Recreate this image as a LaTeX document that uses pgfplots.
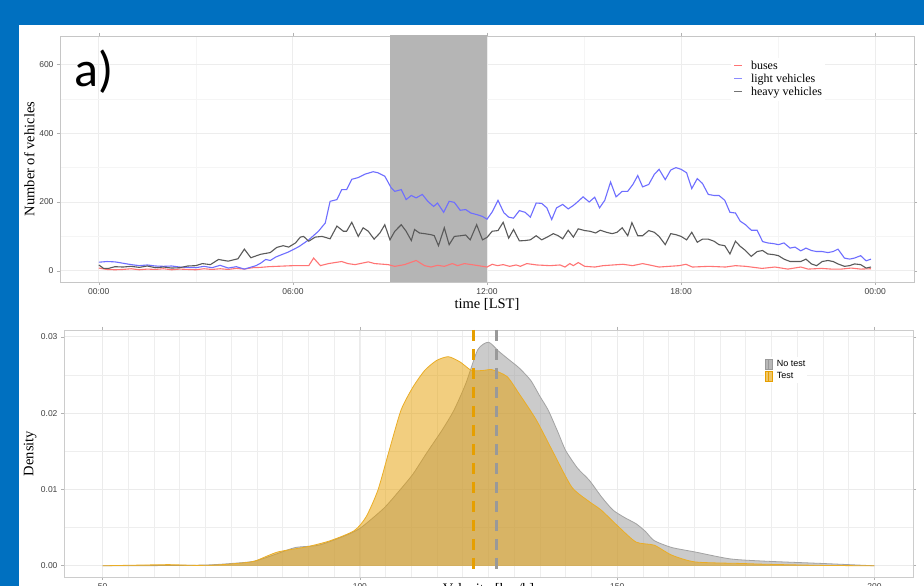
\documentclass[border=0pt]{standalone}
\usepackage{fontspec}
\setmainfont{Liberation Serif}
\setsansfont{Liberation Sans}
\newfontfamily\calib{Carlito}
\usepackage{pgfplots}
\pgfplotsset{compat=1.18}
\usepackage{pgfplotstable}
\definecolor{slideblue}{HTML}{0070C0}
\definecolor{nogray}{HTML}{999999}
\definecolor{testor}{HTML}{E69F00}
\definecolor{busred}{HTML}{FF7474}
\definecolor{lvblue}{HTML}{6E6EFF}
\definecolor{hvgray}{HTML}{5A5A5A}

\pgfplotstableread{
h v
0 8
0.25 4
0.5 3
0.75 4
1.0 6
1.25 3
1.5 5
1.75 4
2.0 6
2.25 3
2.5 5
2.75 4
3.0 3
3.25 6
3.5 4
3.75 6
4.0 4
4.25 7
4.5 5
4.75 9
5.0 10
5.25 12
5.5 13
5.75 14
6.0 15
6.3 15
6.49 15
6.64 37
6.85 15
7.1 21
7.3 24
7.51 27
7.7 21
7.92 18
8.33 26
8.53 21
8.94 18
9.15 13
9.45 18
9.81 30
10.07 15
10.27 11
10.47 16
10.68 13
10.93 21
11.09 15
11.3 21
11.6 17
12.0 11
12.16 19
12.32 15
12.5 18
12.7 13
12.9 17
13.03 13
13.23 21
13.54 17
13.95 15
14.26 17
14.41 11
14.56 21
14.67 15
14.82 24
15.02 13
15.33 11
15.59 15
15.9 17
16.2 19
16.5 15
16.81 21
17.02 17
17.32 11
17.63 13
17.94 15
18.15 19
18.35 11
18.86 13
19.37 11
19.68 15
20.0 13
20.5 7
20.9 11
21.3 5
21.7 11
21.93 5
22.34 7
22.65 5
22.95 5
23.26 8
23.55 5
23.87 6
}\buses

\pgfplotstableread{
h v
0 25
0.25 27
0.5 26
0.75 22
1.0 18
1.25 15
1.5 17
1.75 14
2.0 13
2.25 14
2.5 11
2.75 10
3.0 9
3.25 13
3.5 9
3.75 16
4.0 8
4.25 12
4.5 5
4.86 15
5.0 22
5.16 33
5.3 30
5.47 40
5.6 45
5.87 55
6.18 70
6.49 90
6.79 115
7.0 139
7.15 202
7.36 207
7.51 236
7.66 236
7.82 266
8.02 271
8.23 281
8.48 288
8.63 285
8.84 275
9.04 241
9.15 231
9.35 236
9.5 207
9.66 219
9.81 212
10.0 222
10.17 202
10.35 187
10.47 197
10.66 170
10.83 202
10.99 199
11.17 176
11.34 178
11.5 168
11.7 163
11.86 158
12.0 150
12.16 171
12.34 205
12.52 169
12.67 156
12.82 153
13.0 175
13.18 170
13.34 156
13.52 197
13.69 196
13.85 183
14.0 149
14.15 183
14.34 193
14.51 180
14.67 190
14.82 202
14.97 215
15.16 200
15.33 214
15.48 183
15.64 205
15.82 258
15.99 215
16.18 231
16.35 231
16.51 251
16.66 277
16.81 244
17.0 251
17.17 280
17.32 295
17.51 265
17.68 293
17.84 300
18.0 295
18.17 285
18.33 239
18.5 268
18.66 254
18.84 222
19.02 219
19.17 219
19.35 205
19.51 170
19.68 168
19.83 144
19.99 134
20.17 118
20.35 118
20.52 85
20.68 81
20.86 79
21.01 76
21.18 81
21.37 66
21.52 69
21.7 58
21.86 66
22.03 59
22.19 56
22.36 56
22.54 53
22.7 56
22.85 63
23.05 37
23.21 34
23.36 37
23.55 44
23.72 29
23.87 34
}\light

\pgfplotstableread{
h v
0 17
0.15 7
0.3 7
0.5 12
0.75 11
1.0 13
1.25 10
1.5 14
1.75 9
2.0 11
2.25 8
2.5 9
2.75 14
3.0 15
3.2 21
3.45 18
3.7 33
4.0 28
4.3 35
4.5 63
4.7 38
5.0 48
5.3 53
5.5 68
5.7 73
5.87 69
6.08 81
6.23 98
6.33 100
6.49 86
6.69 98
6.9 100
7.15 93
7.36 130
7.56 115
7.66 115
7.82 141
8.02 100
8.17 125
8.33 115
8.51 92
8.69 110
8.84 134
9.0 90
9.15 115
9.35 134
9.5 115
9.66 88
9.76 120
9.91 110
10.07 108
10.27 105
10.37 102
10.5 73
10.68 125
10.83 76
10.99 100
11.19 102
11.34 104
11.48 90
11.68 134
11.86 90
12.0 97
12.16 115
12.34 117
12.5 141
12.67 95
12.82 120
13.0 87
13.18 88
13.34 90
13.52 102
13.69 90
13.9 100
14.05 108
14.2 102
14.34 93
14.51 118
14.67 98
14.82 122
15.02 117
15.18 115
15.36 110
15.5 118
15.69 112
15.87 108
16.02 112
16.18 125
16.35 102
16.48 140
16.66 102
16.81 102
17.0 117
17.17 112
17.32 100
17.51 76
17.68 108
17.84 105
18.0 100
18.17 90
18.33 112
18.5 83
18.66 92
18.84 92
19.02 86
19.17 76
19.35 73
19.51 49
19.68 86
19.83 71
19.99 59
20.17 42
20.35 56
20.52 59
20.68 49
20.86 47
21.01 44
21.18 34
21.37 27
21.52 27
21.7 27
21.86 34
22.03 20
22.19 15
22.36 27
22.54 30
22.7 27
22.85 20
23.05 13
23.21 15
23.36 20
23.55 18
23.72 8
23.87 11
}\heavy

\pgfplotstableread{
v d
50 0
60 0.00002
70 0.0001
75 0.0003
79.5 0.0006
84 0.0016
87.5 0.0024
92 0.0027
96.6 0.0038
100 0.0049
104.6 0.0075
107.5 0.0097
110.3 0.0120
113 0.0148
116 0.0178
118.3 0.0204
120.6 0.0239
122.9 0.0283
125 0.0293
127 0.0281
129 0.0270
131 0.0259
133.2 0.0243
135 0.0222
136.6 0.0204
138.5 0.0175
140 0.0151
142.3 0.0128
144.6 0.0112
147 0.0090
149.2 0.0073
151.5 0.0063
153.7 0.0055
155.5 0.0045
157.2 0.0033
160.6 0.0024
165.2 0.0018
172 0.0009
178.9 0.0006
190 0.0003
200 0
}\notest

\pgfplotstableread{
v d
50 0
58 0.0001
63 0.00015
68 0.00005
72 0.0001
76 0.0003
79.5 0.0006
84 0.0018
89.8 0.0025
94.3 0.0033
98.9 0.0046
101.2 0.0064
103.5 0.0099
105.7 0.0151
108 0.0204
110.3 0.0234
112.6 0.0256
114.9 0.0269
117.2 0.0274
119.5 0.0267
121.7 0.0256
124 0.0256
125.7 0.0257
128.6 0.0248
130.9 0.0226
134.3 0.0191
137.7 0.0147
141.2 0.0103
144.6 0.0084
146.9 0.0073
150.3 0.0051
153.7 0.0031
157.2 0.0027
160.6 0.0014
165.2 0.0005
174.3 0.0003
178.9 0.0002
190 0.00005
200 0
}\testd

\begin{document}
\begin{tikzpicture}[x=1pt,y=1pt]
\useasboundingbox (0,0) rectangle (924,586);
\clip (0,0) rectangle (924,586);
\fill[slideblue] (0,0) rectangle (924,586);
\fill[white] (19,0) rectangle (924,561);

% ---------- top panel ----------
\begin{axis}[
  at={(60pt,304pt)}, anchor=south west,
  scale only axis, width=854pt, height=246pt,
  xmin=-1.2, xmax=25.2, ymin=-32.5, ymax=682.5,
  xtick={0,6,12,18,24}, xticklabels={00:00,06:00,12:00,18:00,00:00},
  minor xtick={3,9,15,21},
  ytick={0,200,400,600}, minor ytick={100,300,500},
  grid=both,
  major grid style={gray!14, line width=1pt},
  minor grid style={gray!8, line width=0.5pt},
  axis line style={gray!45, line width=0.9pt},
  tick align=outside, major tick length=3pt, minor tick length=0pt,
  tick style={gray!60, line width=0.6pt},
  tick label style={font=\sffamily\fontsize{8.5}{9}\selectfont, text=black!75},
  /pgf/number format/assume math mode=true,
  xlabel={time [LST]}, ylabel={Number of vehicles},
  label style={font=\fontsize{14.5}{16}\selectfont},
  xlabel style={at={(axis description cs:0.5,-0.093)}, anchor=center},
  ylabel style={at={(axis description cs:-0.036,0.5)}, anchor=center},
  legend style={at={(axis description cs:0.786,0.911)}, anchor=north west,
    draw=none, fill=white, font=\fontsize{12}{13}\selectfont,
    nodes={inner sep=1pt, text height=8.5pt, text depth=2.5pt},
    inner xsep=2pt, inner ysep=2pt,
    /tikz/every odd column/.append style={column sep=7pt}},
  legend cell align=left,
  legend image code/.code={\draw[#1] (0pt,1pt) -- (8pt,1pt);},
]
\addplot[fill=black!29, draw=none, forget plot] coordinates {(9,-40) (12,-40) (12,700) (9,700)};
\addplot[busred, line width=1.1pt, forget plot] table[x=h,y=v] {\buses};
\addplot[lvblue, line width=1.1pt, forget plot] table[x=h,y=v] {\light};
\addplot[hvgray, line width=1.1pt, forget plot] table[x=h,y=v] {\heavy};
\addlegendimage{draw=busred, line width=1.6pt}
\addlegendentry{buses}
\addlegendimage{draw=lvblue!80, line width=1.6pt}
\addlegendentry{light vehicles}
\addlegendimage{draw=hvgray!85, line width=1.6pt}
\addlegendentry{heavy vehicles}
\end{axis}

\node[anchor=base west, inner sep=0pt, font=\calib\fontsize{50}{50}\selectfont] at (74,499) {a)};

% ---------- bottom panel ----------
\begin{axis}[
  at={(64pt,9pt)}, anchor=south west,
  scale only axis, width=849pt, height=247pt,
  xmin=42.5, xmax=207.5, ymin=-0.00147, ymax=0.0309,
  xtick={50,100,150,200},
  minor xtick={55,60,...,195},
  ytick={0,0.01,0.02,0.03}, minor ytick={0.005,0.015,0.025},
  scaled y ticks=false,
  yticklabel style={/pgf/number format/.cd, fixed, fixed zerofill, precision=2},
  grid=both,
  major grid style={gray!16, line width=0.9pt},
  minor grid style={gray!13, line width=0.6pt},
  axis line style={gray!40, line width=0.9pt},
  tick align=outside, major tick length=3pt, minor tick length=0pt,
  tick style={gray!60, line width=0.6pt},
  tick label style={font=\sffamily\fontsize{8.5}{9}\selectfont, text=black!75},
  /pgf/number format/assume math mode=true,
  xlabel={Velocity [km/h]}, ylabel={Density},
  label style={font=\fontsize{14.5}{16}\selectfont},
  xlabel style={at={(axis description cs:0.5,-0.053)}, anchor=center},
  ylabel style={at={(axis description cs:-0.040,0.5)}, anchor=center},
  legend style={at={(axis description cs:0.824,0.89)}, anchor=north west,
    draw=none, fill=white, font=\sffamily\fontsize{9}{10}\selectfont,
    nodes={inner sep=0.8pt, text height=7pt, text depth=2pt},
    inner xsep=1pt, inner ysep=1pt,
    /tikz/every odd column/.append style={column sep=4pt}},
  legend cell align=left,
  legend image code/.code={\fill[#1] (0pt,-5pt) rectangle (7pt,5pt); \draw[#1, line width=1.6pt] (3.5pt,-5pt) -- (3.5pt,5pt);},
]
\addplot[smooth, tension=0.4, draw=nogray!90, fill=nogray, fill opacity=0.5, line width=0.8pt, forget plot] table[x=v,y=d] {\notest};
\addplot[smooth, tension=0.4, draw=testor!85, fill=testor, fill opacity=0.5, line width=0.8pt, forget plot] table[x=v,y=d] {\testd};
\addplot[testor, line width=3.2pt, dash pattern=on 11pt off 8pt, forget plot] coordinates {(122.1,0.0309) (122.1,-0.00147)};
\addplot[nogray, line width=3.2pt, dash pattern=on 11pt off 8pt, forget plot] coordinates {(126.6,0.0309) (126.6,-0.00147)};
\addlegendimage{fill=nogray!70, draw=nogray}
\addlegendentry{No test}
\addlegendimage{fill=testor!60, draw=testor}
\addlegendentry{Test}
\end{axis}
\end{tikzpicture}
\end{document}
